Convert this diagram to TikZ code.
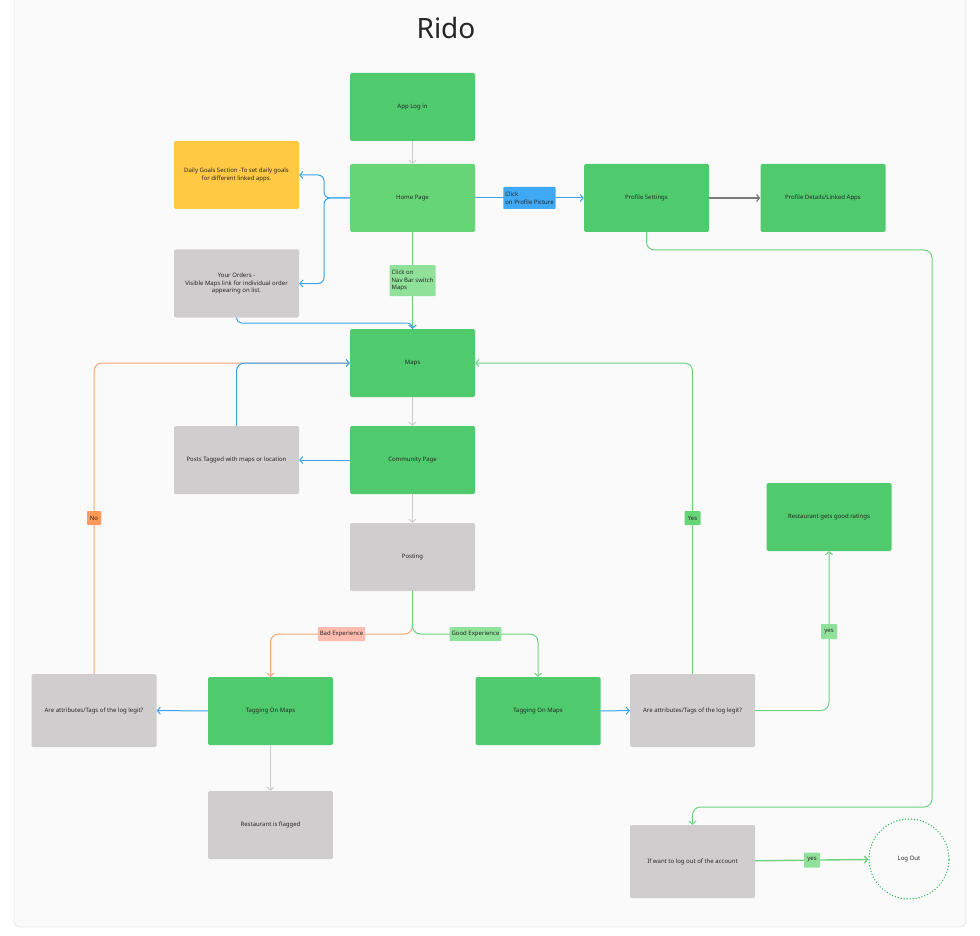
\documentclass[tikz,border=0pt]{standalone}
\usepackage{fontspec}
\setmainfont{Noto Sans}
\usetikzlibrary{arrows.meta}
\definecolor{gboxc}{HTML}{4FCB6E}
\definecolor{gboxl}{HTML}{66D575}
\definecolor{grayboxc}{HTML}{CFCDCE}
\definecolor{yboxc}{HTML}{FFC943}
\definecolor{bline}{HTML}{3AA3F0}
\definecolor{blabel}{HTML}{3FA9F5}
\definecolor{oline}{HTML}{F7A577}
\definecolor{olabel}{HTML}{FF9A5C}
\definecolor{badc}{HTML}{FFBCAE}
\definecolor{gline}{HTML}{6BD37F}
\definecolor{glabel}{HTML}{90E29A}
\definecolor{glabeld}{HTML}{66D575}
\definecolor{aline}{HTML}{CCCCCC}
\definecolor{dline}{HTML}{7A7A7A}
\definecolor{txt}{HTML}{262626}
\definecolor{panelc}{HTML}{FAFAFA}
\definecolor{panelb}{HTML}{E8E8E8}
\definecolor{dotc}{HTML}{2DBE55}
\tikzset{
  box/.style={rectangle, rounded corners=1.5pt, minimum width=125pt, minimum height=68pt,
    inner sep=2pt, align=center, text=txt, font=\fontsize{6}{7.9}\selectfont},
  gbox/.style={box, fill=gboxc},
  gboxlight/.style={box, fill=gboxl},
  graybox/.style={box, fill=grayboxc},
  qbox/.style={box, fill=grayboxc, minimum height=73pt},
  ybox/.style={box, fill=yboxc},
  lab/.style={rectangle, rounded corners=0.8pt, inner sep=2pt, text=txt,
    font=\fontsize{6}{7.6}\selectfont},
  arr/.style={-{Straight Barb[length=3pt,width=7pt]}},
  conn/.style={line width=1pt},
}
\begin{document}
\begin{tikzpicture}[x=1pt,y=-1pt]
\useasboundingbox (0,0) rectangle (980,936);
\fill[panelc, draw=panelb, line width=0.8pt, rounded corners=6pt] (14,-6) rectangle (966,927);

\node[text=txt, font=\fontsize{28}{30}\selectfont] (title) at (446,28) {Rido};

% boxes
\node[gbox] (login) at (412.5,107) {App Log in};
\node[gboxlight] (home) at (412.5,198) {Home Page};
\node[ybox] (daily) at (236.5,175) {Daily Goals Section -To set daily goals\\for different linked apps.};
\node[graybox] (orders) at (236.5,283.5) {Your Orders -\\Visible Maps link for individual order\\appearing on list.};
\node[gbox] (profile) at (646.5,198) {Profile Settings};
\node[gbox] (details) at (823,198) {Profile Details/Linked Apps};
\node[gbox] (maps) at (412.5,363) {Maps};
\node[gbox] (community) at (412.5,460) {Community Page};
\node[graybox] (posts) at (236.5,460) {Posts Tagged with maps or location};
\node[graybox] (posting) at (412.5,557) {Posting};
\node[gbox] (tagL) at (270.5,711) {Tagging On Maps};
\node[qbox] (attrL) at (94,710.5) {Are attributes/Tags of the log legit?};
\node[graybox] (flagged) at (270.5,825) {Restaurant is flagged};
\node[gbox] (tagR) at (538,711) {Tagging On Maps};
\node[qbox] (attrR) at (692.5,710.5) {Are attributes/Tags of the log legit?};
\node[gbox] (ratings) at (829,517) {Restaurant gets good ratings};
\node[qbox] (ifwant) at (692.5,861.5) {If want to log out of the account};
\node[circle, minimum size=80pt, draw=dotc, line width=1.5pt, line cap=round,
  dash pattern=on 0.01pt off 3pt, text=txt, font=\fontsize{6}{7}\selectfont]
  (logout) at (909,859) {\textbf{Log Out}};

% coordinates for bends
\coordinate (hsplit) at (324,198);
\coordinate (ojoin) at (412.5,323);
\coordinate (psplit) at (412.5,634);
\coordinate (pr1) at (646.5,250);
\coordinate (pr2) at (932,250);
\coordinate (pr3) at (932,807);
\coordinate (pr4) at (692.5,807);

% connectors
\draw[conn, arr, aline] (login) -- (home);
\draw[conn, arr, bline, rounded corners=6pt] (home.west) -- (hsplit) |- (daily.east);
\draw[conn, arr, bline, rounded corners=6pt] (home.west) -- (hsplit) |- (orders.east);
\draw[conn, arr, bline] (home) -- (profile);
\draw[conn, arr, dline, line width=1.2pt] (profile) -- (details);
\draw[conn, arr, gline] (home) -- (maps);
\draw[conn, arr, bline, rounded corners=5pt] (orders.south) |- (ojoin) -- (maps.north);
\draw[conn, arr, aline] (maps) -- (community);
\draw[conn, arr, aline] (community) -- (posting);
\draw[conn, arr, bline] (community) -- (posts);
\draw[conn, arr, oline, rounded corners=8pt] (attrL.north) |- (maps.west);
\draw[conn, arr, bline, rounded corners=8pt] (posts.north) |- (maps.west);
\draw[conn, arr, oline, rounded corners=8pt] (posting.south) -- (psplit) -| (tagL.north);
\draw[conn, arr, gline, rounded corners=8pt] (posting.south) -- (psplit) -| (tagR.north);
\draw[conn, arr, bline] (tagL) -- (attrL);
\draw[conn, arr, aline] (tagL) -- (flagged);
\draw[conn, arr, bline] (tagR) -- (attrR);
\draw[conn, arr, gline, rounded corners=8pt] (attrR.north) |- (maps.east);
\draw[conn, arr, gline, rounded corners=8pt] (attrR.east) -| (ratings.south);
\draw[conn, arr, gline, rounded corners=8pt] (profile.south) -- (pr1) -- (pr2) -- (pr3) -- (pr4) -- (ifwant.north);
\draw[conn, arr, gline, line width=1.4pt] (ifwant) -- (logout);

% labels on connectors
\node[lab, fill=blabel, align=left, minimum width=51pt, minimum height=22pt] (lclick) at (529.5,198) {Click\\on Profile Picture};
\node[lab, fill=glabel, align=left, minimum width=46pt, minimum height=31pt] (lnav) at (412.5,280.5) {Click on\\Nav Bar switch\\Maps};
\node[lab, fill=olabel, minimum width=14pt, minimum height=14pt, inner sep=1pt] (lno) at (94,518) {No};
\node[lab, fill=glabeld, minimum width=16pt, minimum height=14pt, inner sep=1pt] (lyes) at (692.5,518) {Yes};
\node[lab, fill=badc, minimum height=14pt] (lbad) at (341.5,634) {Bad Experience};
\node[lab, fill=glabel, minimum height=14pt] (lgood) at (475.5,634) {Good Experience};
\node[lab, fill=glabel, minimum width=16pt, minimum height=15pt, inner sep=1pt] (lyes2) at (829,631.5) {yes};
\node[lab, fill=glabel, minimum width=16pt, minimum height=15pt, inner sep=1pt] (lyes3) at (812,860) {yes};
\end{tikzpicture}
\end{document}
